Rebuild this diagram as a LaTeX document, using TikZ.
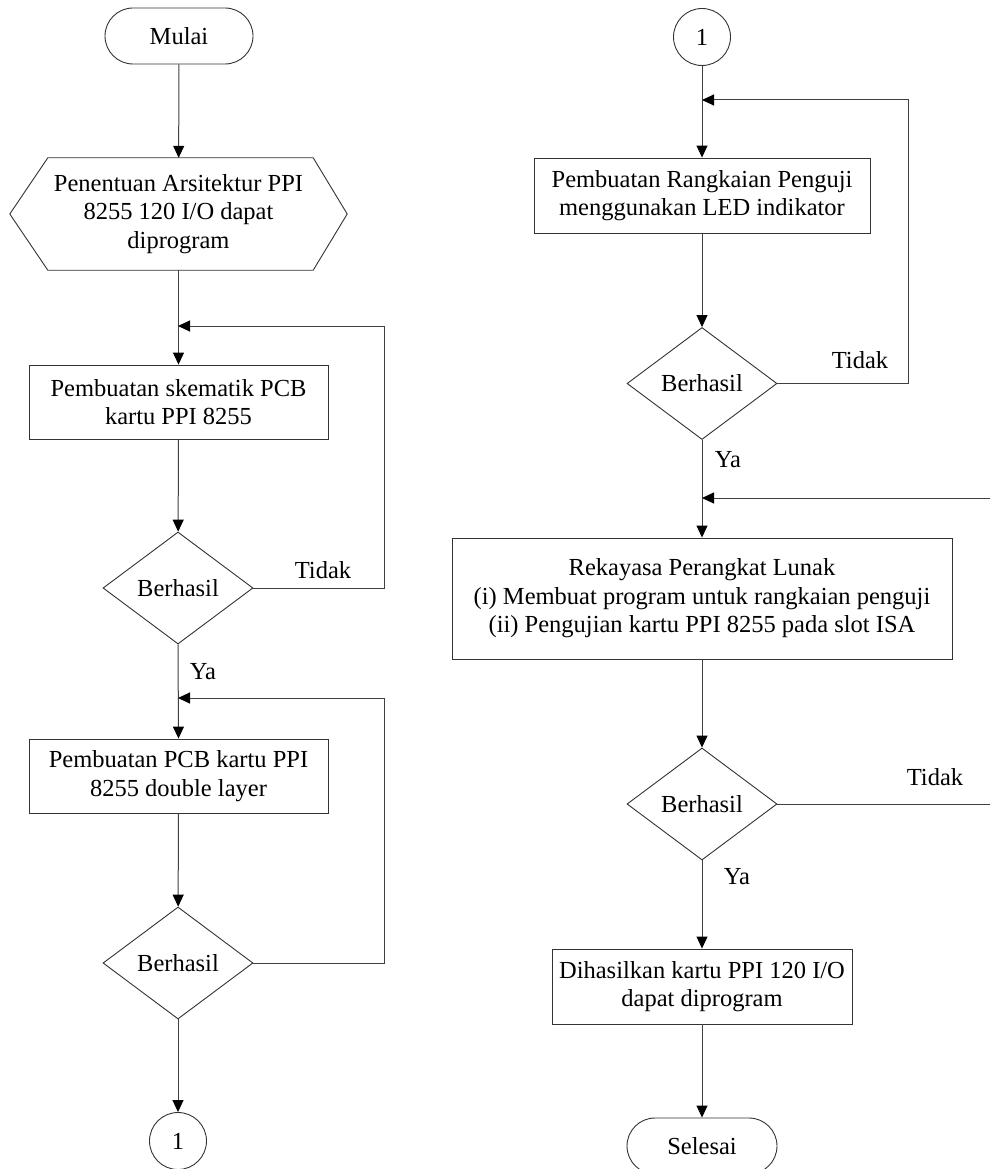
\documentclass[tikz,border=0pt]{standalone}
\usepackage{fontspec}
\setmainfont{Liberation Serif}
\usetikzlibrary{shapes.geometric,arrows.meta,calc}
\newcommand{\fcfont}{\fontsize{24.5pt}{28.5pt}\selectfont}
\begin{document}
\begin{tikzpicture}[x=1pt,y=-1pt,
  every node/.style={font=\fcfont, text=black},
  lin/.style={draw=black!75, line width=1pt},
  arr/.style={lin, -{Triangle[length=12pt,width=11pt,color=black]}},
  term/.style={draw=black!80, line width=0.9pt, rectangle, rounded corners=28pt, minimum width=148pt, minimum height=56pt, inner sep=0pt},
  procbox/.style={draw=black!80, line width=0.9pt, rectangle, align=center, inner sep=0pt},
  decide/.style={draw=black!80, line width=0.9pt, diamond, aspect=1.34, inner sep=0pt, minimum width=150pt, minimum height=112pt},
  conn/.style={draw=black!80, line width=0.9pt, circle, minimum size=57pt, inner sep=0pt},
  lbl/.style={inner sep=0pt}
]
\useasboundingbox[fill=white] (0,0) rectangle (990,1169);

% left column
\node[term] (mulai) at (179,36) {Mulai};
\node[align=center, inner sep=0pt, minimum width=337pt, minimum height=112pt] (hex) at (178.5,214)
  {Penentuan Arsitektur PPI\\8255 120 I/O dapat\\diprogram};
\draw[draw=black!80, line width=0.9pt] (hex.west) -- ($(hex.north west)+(38,0)$) -- ($(hex.north east)+(-34,0)$)
  -- (hex.east) -- ($(hex.south east)+(-34,0)$) -- ($(hex.south west)+(38,0)$) -- cycle;
\node[procbox, minimum width=299pt, minimum height=74pt] (box1) at (178.5,402)
  {Pembuatan skematik PCB\\kartu PPI 8255};
\node[decide] (d1) at (178,588) {Berhasil};
\node[procbox, minimum width=299pt, minimum height=74pt] (box2) at (178.5,776)
  {Pembuatan PCB kartu PPI\\8255 double layer};
\node[decide] (d2) at (178,963) {Berhasil};
\node[conn] (c1) at (178,1141) {1};

% right column
\node[conn] (c2) at (702,37) {1};
\node[procbox, minimum width=336pt, minimum height=75pt] (box3) at (702,195.5)
  {Pembuatan Rangkaian Penguji\\menggunakan LED indikator};
\node[decide] (d3) at (702,383.5) {Berhasil};
\node[procbox, minimum width=500pt, minimum height=121pt] (box4) at (702,598.5)
  {Rekayasa Perangkat Lunak\\(i) Membuat program untuk rangkaian penguji\\(ii) Pengujian kartu PPI 8255 pada slot ISA};
\node[decide] (d4) at (702,804) {Berhasil};
\node[procbox, minimum width=300pt, minimum height=75pt] (box5) at (702,986.5)
  {Dihasilkan kartu PPI 120 I/O\\dapat diprogram};
\node[term, minimum width=150pt] (selesai) at (702,1146) {Selesai};

% junction coordinates
\coordinate (j1) at (178,326);
\coordinate (j2) at (178,698);
\coordinate (j3) at (702,100);
\coordinate (j4) at (702,498);
\coordinate (r4a) at (990,804);
\coordinate (r4b) at (990,498);

% labels
\node[lbl] (t1) at (323,570) {Tidak};
\node[lbl] (y1) at (203,672) {Ya};
\node[lbl] (t3) at (860,360) {Tidak};
\node[lbl] (y3) at (728,460) {Ya};
\node[lbl] (t4) at (935,777) {Tidak};
\node[lbl] (y4) at (737,877) {Ya};

% connectors left
\draw[arr] (mulai) -- (hex);
\draw[arr] (hex.south) -- (box1.north);
\draw[arr] (box1) -- (d1);
\draw[arr] (d1.east) -- ++(131,0) |- (j1);
\draw[arr] (d1.south) -- (box2.north);
\draw[arr] (box2) -- (d2);
\draw[arr] (d2.east) -- ++(131,0) |- (j2);
\draw[arr] (d2.south) -- (c1.north);

% connectors right
\draw[arr] (c2.south) -- (box3.north);
\draw[arr] (box3) -- (d3);
\draw[arr] (d3.east) -- ++(131,0) |- (j3);
\draw[arr] (d3.south) -- (box4.north);
\draw[arr] (r4b) -- (j4);
\draw[lin] (d4.east) -- (r4a);
\draw[arr] (box4) -- (d4);
\draw[arr] (d4.south) -- (box5.north);
\draw[arr] (box5) -- (selesai);
\end{tikzpicture}
\end{document}
